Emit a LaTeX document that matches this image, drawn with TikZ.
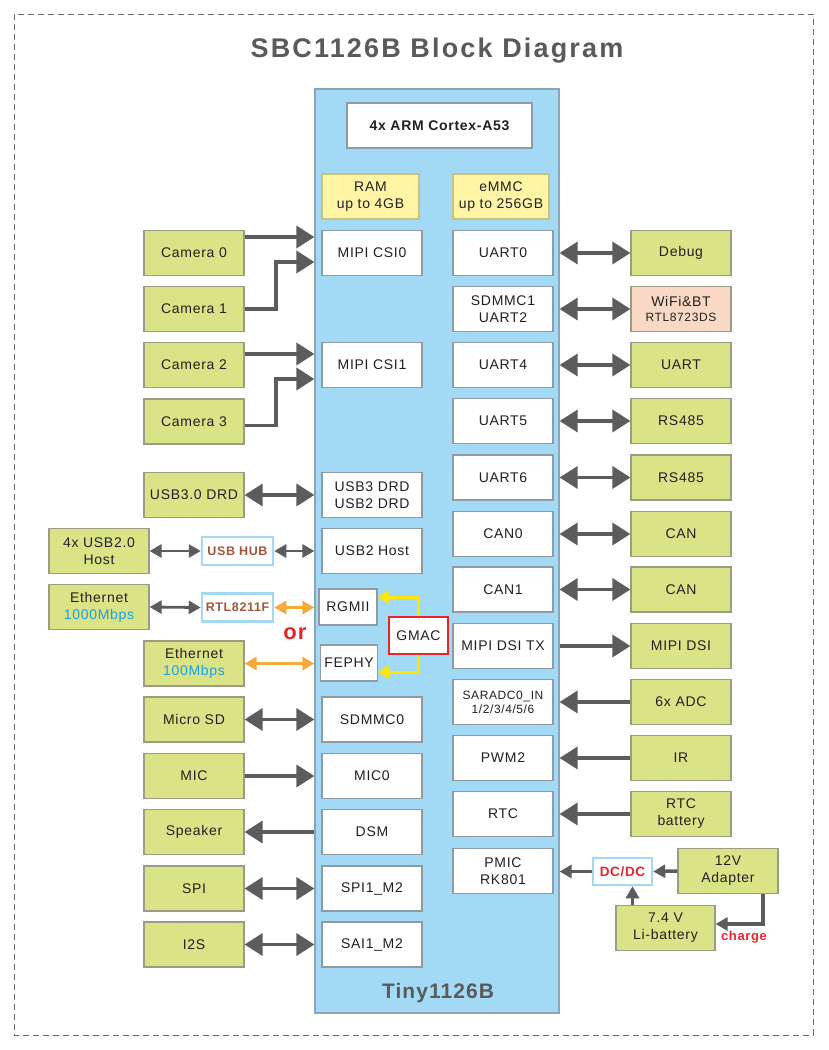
\documentclass[tikz,border=0pt]{standalone}
\usepackage{fontspec}
\setmainfont[LetterSpace=5]{Liberation Sans}
\newfontfamily\titlefont[LetterSpace=8]{Liberation Sans}
\usetikzlibrary{arrows.meta,calc}
\definecolor{pGreen}{HTML}{DAE487}
\definecolor{pGreenEdge}{HTML}{9C9C86}
\definecolor{pBoard}{HTML}{A2D9F4}
\definecolor{pBoardEdge}{HTML}{8AA6B4}
\definecolor{pChipEdge}{HTML}{8C9BA5}
\definecolor{pYellow}{HTML}{FFF5A5}
\definecolor{pYellowEdge}{HTML}{C9C07A}
\definecolor{pPeach}{HTML}{F9D9C5}
\definecolor{pArrow}{HTML}{5C5C5C}
\definecolor{pOrange}{HTML}{F5AA3C}
\definecolor{pGmac}{HTML}{FFE500}
\definecolor{pRed}{HTML}{E4262C}
\definecolor{pBlueText}{HTML}{1AA0E2}
\definecolor{pBrown}{HTML}{A5563A}
\definecolor{pTitle}{HTML}{5A5A5A}
\definecolor{pHubEdge}{HTML}{A5D8F2}
\definecolor{pText}{HTML}{231F20}

\begin{document}
\begin{tikzpicture}[x=1pt, y=-1pt, font=\fontsize{14}{17}\selectfont,
  greenbox/.style={draw=pGreenEdge, fill=pGreen, line width=1.2pt, minimum width=100, minimum height=45, inner sep=0pt, align=center, text=pText},
  chipbox/.style={draw=pChipEdge, fill=white, line width=1.2pt, minimum width=100, minimum height=45, inner sep=0pt, align=center, text=pText},
  membox/.style={chipbox, draw=pYellowEdge, fill=pYellow, minimum width=97},
  hubbox/.style={draw=pHubEdge, fill=white, line width=2.5pt, minimum width=71, minimum height=28, inner sep=0pt, font=\fontsize{12.5}{15}\selectfont\bfseries},
  bigarr/.style={draw=pArrow, line width=3.5pt, -{Triangle[length=18pt,width=22pt]}},
  bigdbl/.style={draw=pArrow, line width=3.5pt, {Triangle[length=18pt,width=22pt]}-{Triangle[length=18pt,width=22pt]}},
  smallarr/.style={draw=pArrow, line width=2.8pt, {Triangle[length=12pt,width=13pt]}-{Triangle[length=12pt,width=13pt]}},
  orangearr/.style={smallarr, draw=pOrange},
  gmacarr/.style={draw=pGmac, line width=3pt, -{Triangle[length=11pt,width=13pt]}},
  pwrarr/.style={draw=pArrow, line width=3.5pt, -{Triangle[length=12pt,width=13pt]}}]
\useasboundingbox (0,0) rectangle (828,1050);
% frame and title
\draw[draw=pArrow!90, line width=1pt, dash pattern=on 6pt off 4pt] (14,14) rectangle (813,1035);
\node[anchor=base, text=pTitle, font=\titlefont\fontsize{27}{30}\selectfont\bfseries] (title) at (437,57) {SBC1126B Block Diagram};
% board
\node[draw=pBoardEdge, fill=pBoard, line width=1.2pt, minimum width=244, minimum height=924, inner sep=0pt] (board) at (437,551) {};
\node[text=pTitle, font=\fontsize{21}{24}\selectfont\bfseries] (boardname) at (438,993) {Tiny1126B};
\node[chipbox, minimum width=185, font=\fontsize{14}{17}\selectfont\bfseries] (cpu) at (439.5,125.5) {4x ARM Cortex-A53};
\node[membox] (ram) at (370.5,196.5) {RAM\\up to 4GB};
\node[membox, minimum width=96] (emmc) at (501,196.5) {eMMC\\up to 256GB};
% board interfaces, left column
\node[chipbox] (csi0) at (372,253) {MIPI CSI0};
\node[chipbox] (csi1) at (372,365) {MIPI CSI1};
\node[chipbox] (usb3) at (372,495) {USB3 DRD\\USB2 DRD};
\node[chipbox] (usb2) at (372,551) {USB2 Host};
\node[chipbox, minimum width=58, minimum height=36] (rgmii) at (348,607) {RGMII};
\node[chipbox, minimum width=57, minimum height=36] (fephy) at (349,663) {FEPHY};
\node[chipbox, draw=pRed, minimum width=59, minimum height=37] (gmac) at (418.5,635.5) {GMAC};
\node[chipbox] (sdmmc0) at (372,719.5) {SDMMC0};
\node[chipbox] (mic0) at (372,776) {MIC0};
\node[chipbox] (dsm) at (372,832) {DSM};
\node[chipbox] (spi1) at (372,888.5) {SPI1\_M2};
\node[chipbox] (sai1) at (372,944.5) {SAI1\_M2};
% board interfaces, right column
\node[chipbox] (uart0) at (503,253) {UART0};
\node[chipbox] (sdmmc1) at (503,309) {SDMMC1\\UART2};
\node[chipbox] (uart4) at (503,365) {UART4};
\node[chipbox] (uart5) at (503,421) {UART5};
\node[chipbox] (uart6) at (503,477.5) {UART6};
\node[chipbox] (can0) at (503,534) {CAN0};
\node[chipbox] (can1) at (503,589.5) {CAN1};
\node[chipbox] (dsitx) at (503,646) {MIPI DSI TX};
\node[chipbox, font=\fontsize{12}{14}\selectfont] (saradc) at (503,702) {SARADC0\_IN\\1/2/3/4/5/6};
\node[chipbox] (pwm2) at (503,758) {PWM2};
\node[chipbox] (rtc) at (503,814) {RTC};
\node[chipbox] (pmic) at (503,871) {PMIC\\RK801};
% peripherals, left
\node[greenbox] (cam0) at (194,253) {Camera 0};
\node[greenbox] (cam1) at (194,309) {Camera 1};
\node[greenbox] (cam2) at (194,365) {Camera 2};
\node[greenbox] (cam3) at (194,421.5) {Camera 3};
\node[greenbox] (usb3dev) at (194,495) {USB3.0 DRD};
\node[greenbox] (usbhost) at (99,551) {4x USB2.0\\Host};
\node[greenbox] (eth1000) at (99,607) {Ethernet\\\textcolor{pBlueText}{1000Mbps}};
\node[greenbox] (eth100) at (194,663.5) {Ethernet\\\textcolor{pBlueText}{100Mbps}};
\node[greenbox] (microsd) at (194,719.5) {Micro SD};
\node[greenbox] (mic) at (194,776) {MIC};
\node[greenbox] (speaker) at (194,832) {Speaker};
\node[greenbox] (spi) at (194,888.5) {SPI};
\node[greenbox] (iis) at (194,944.5) {I2S};
\node[hubbox, text=pBrown] (hub) at (237.5,551) {USB HUB};
\node[hubbox, text=pBrown] (phy) at (237.5,607.5) {RTL8211F};
\node[text=pRed, font=\fontsize{22}{24}\selectfont\bfseries] (ortext) at (295,634) {or};
% peripherals, right
\node[greenbox] (debug) at (681,253) {Debug};
\node[greenbox, fill=pPeach] (wifi) at (681,309) {WiFi\&BT\\[-2pt]{\fontsize{12}{14}\selectfont RTL8723DS}};
\node[greenbox] (uart) at (681,365) {UART};
\node[greenbox] (rs485a) at (681,421) {RS485};
\node[greenbox] (rs485b) at (681,477.5) {RS485};
\node[greenbox] (cana) at (681,534) {CAN};
\node[greenbox] (canb) at (681,589.5) {CAN};
\node[greenbox] (dsi) at (681,646) {MIPI DSI};
\node[greenbox] (adc) at (681,702) {6x ADC};
\node[greenbox] (ir) at (681,758) {IR};
\node[greenbox] (rtcbat) at (681,814) {RTC\\battery};
% power
\node[hubbox, text=pRed, minimum width=59, minimum height=27, font=\fontsize{13.5}{15}\selectfont\bfseries] (dcdc) at (622.5,871.5) {DC/DC};
\node[greenbox] (adapter) at (728,871) {12V\\Adapter};
\node[greenbox, minimum width=99] (battery) at (665.5,928) {7.4 V\\Li-battery};
\node[text=pRed, font=\fontsize{13}{15}\selectfont\bfseries] (chargetext) at (744,937) {charge};
% camera links
\coordinate (c0) at ($(cam0.east)+(0,-16)$);
\draw[bigarr] (c0) -- (c0 -| board.west);
\coordinate (c1) at (276,262);
\draw[bigarr, line join=miter] (cam1.east) -| (c1) -- (c1 -| board.west);
\coordinate (c2) at ($(cam2.east)+(0,-11)$);
\draw[bigarr] (c2) -- (c2 -| board.west);
\coordinate (c3a) at ($(cam3.east)+(0,4)$);
\coordinate (c3) at (276,379);
\draw[bigarr, line join=miter] (c3a) -| (c3) -- (c3 -| board.west);
% left links
\draw[bigdbl] (usb3dev.east) -- (usb3dev.east -| board.west);
\draw[smallarr] (usbhost.east) -- (hub.west);
\draw[smallarr] (hub.east) -- (hub.east -| board.west);
\draw[smallarr] (eth1000.east) -- (phy.west);
\draw[orangearr] (phy.east) -- (phy.east -| board.west);
\draw[orangearr] (eth100.east) -- (eth100.east -| board.west);
\draw[gmacarr, line join=miter] (gmac.north) |- ([yshift=10pt]rgmii.east);
\draw[gmacarr, line join=miter] (gmac.south) |- ([yshift=-9pt]fephy.east);
\draw[bigdbl] (microsd.east) -- (microsd.east -| board.west);
\draw[bigarr] (mic.east) -- (mic.east -| board.west);
\draw[bigarr] (speaker.east -| board.west) -- (speaker.east);
\draw[bigdbl] (spi.east) -- (spi.east -| board.west);
\draw[bigdbl] (iis.east) -- (iis.east -| board.west);
% right links
\draw[bigdbl] (debug.west -| board.east) -- (debug.west);
\draw[bigdbl] (wifi.west -| board.east) -- (wifi.west);
\draw[bigdbl] (uart.west -| board.east) -- (uart.west);
\draw[bigdbl] (rs485a.west -| board.east) -- (rs485a.west);
\draw[bigdbl] (rs485b.west -| board.east) -- (rs485b.west);
\draw[bigdbl] (cana.west -| board.east) -- (cana.west);
\draw[bigdbl] (canb.west -| board.east) -- (canb.west);
\draw[bigarr] (dsi.west -| board.east) -- (dsi.west);
\draw[bigarr] (adc.west) -- (adc.west -| board.east);
\draw[bigarr] (ir.west) -- (ir.west -| board.east);
\draw[bigarr] (rtcbat.west) -- (rtcbat.west -| board.east);
% power links
\draw[pwrarr] (dcdc.west) -- (dcdc.west -| board.east);
\draw[pwrarr] (adapter.west) -- (dcdc.east);
\draw[pwrarr] ([xshift=10pt]dcdc.south |- battery.north) -- ([xshift=10pt]dcdc.south);
\draw[pwrarr, line join=miter] ([xshift=35pt]adapter.south) |- ([yshift=4pt]battery.east);
\end{tikzpicture}
\end{document}
